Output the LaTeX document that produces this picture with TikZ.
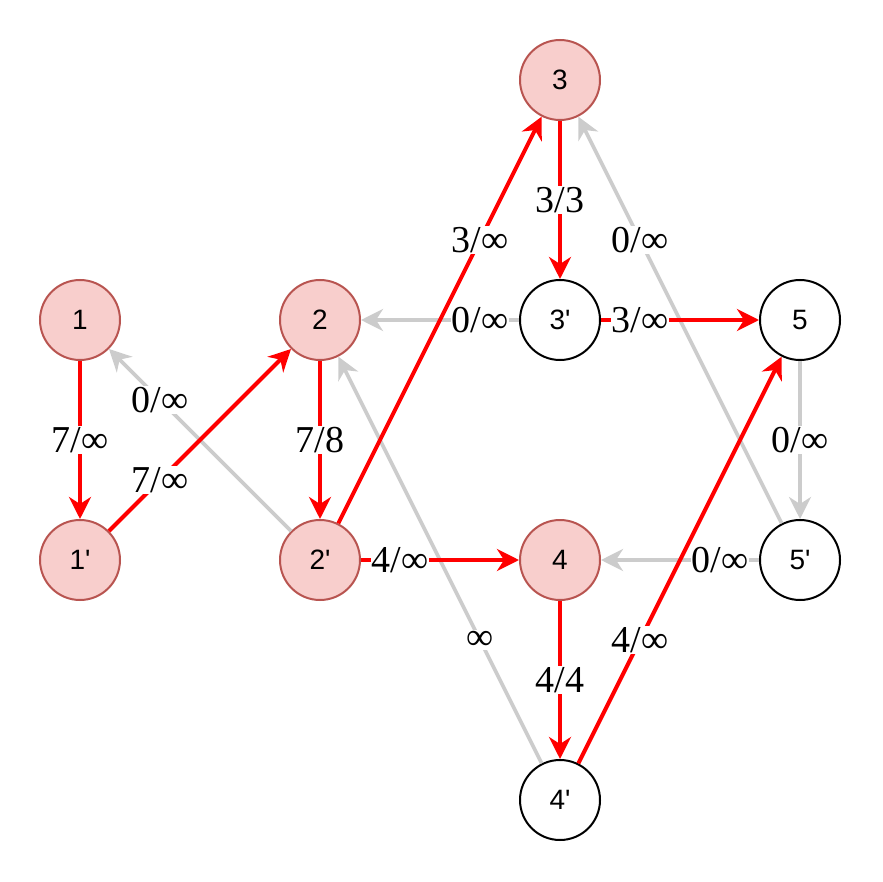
\documentclass[tikz,border=0pt]{standalone}
\usepackage{fontspec}
\setmainfont{Liberation Serif}
\newfontfamily\nodefont{Liberation Sans}
\usetikzlibrary{arrows.meta,calc}
\definecolor{pinkfill}{HTML}{F8CECC}
\definecolor{pinkline}{HTML}{B85450}
\definecolor{flowred}{HTML}{FF0000}
\definecolor{residgray}{HTML}{CCCCCC}
\begin{document}
\begin{tikzpicture}[x={(1pt,0pt)},y={(0pt,-1pt)},
  vtx/.style={circle,minimum size=80pt,inner sep=0pt,line width=2pt,font=\nodefont\fontsize{28}{32}\selectfont},
  hot/.style={vtx,draw=pinkline,fill=pinkfill},
  cold/.style={vtx,draw=black,fill=white},
  tipshape/.style={-{Stealth[length=22pt,width=22pt,inset=7pt]}},
  redarc/.style={draw=flowred,line width=4pt,tipshape},
  grayarc/.style={draw=residgray,line width=3.6pt,tipshape},
  lab/.style={fill=white,inner sep=1pt,font=\fontsize{38}{42}\selectfont}
]
\useasboundingbox (0,0) rectangle (882,882);
% nodes
\node[hot]  (n1)  at (80,320)  {1};
\node[hot]  (n1p) at (80,560)  {1'};
\node[hot]  (n2)  at (320,320) {2};
\node[hot]  (n2p) at (320,560) {2'};
\node[hot]  (n3)  at (560,80)  {3};
\node[cold] (n3p) at (560,320) {3'};
\node[hot]  (n4)  at (560,560) {4};
\node[cold] (n4p) at (560,800) {4'};
\node[cold] (n5)  at (800,320) {5};
\node[cold] (n5p) at (800,560) {5'};
% gray residual arcs
\draw[grayarc] (n2p) -- (n1);
\draw[grayarc] (n4p) -- (n2);
\draw[grayarc] (n3p) -- (n2);
\draw[grayarc] (n5p) -- (n3);
\draw[grayarc] (n5) -- (n5p);
\draw[grayarc] (n5p) -- (n4);
% red flow arcs
\draw[redarc] (n1) -- (n1p);
\draw[redarc] (n1p) -- (n2);
\draw[redarc] (n2) -- (n2p);
\draw[redarc] (n2p) -- (n3);
\draw[redarc] (n2p) -- (n4);
\draw[redarc] (n3) -- (n3p);
\draw[redarc] (n3p) -- (n5);
\draw[redarc] (n4) -- (n4p);
\draw[redarc] (n4p) -- (n5);
% labels
\node[lab] (l1) at ($(n1)!0.5!(n1p)$) {7/∞};
\node[lab] (l2) at ($(n1p)!0.333!(n2)$) {7/∞};
\node[lab] (l3) at ($(n2p)!0.667!(n1)$) {0/∞};
\node[lab] (l4) at ($(n2)!0.5!(n2p)$) {7/8};
\node[lab] (l5) at ($(n2p)!0.667!(n3)$) {3/∞};
\node[lab] (l6) at ($(n2p)!0.333!(n4)$) {4/∞};
\node[lab] (l7) at ($(n4p)!0.333!(n2)$) {∞};
\node[lab] (l8) at ($(n3)!0.5!(n3p)$) {3/3};
\node[lab] (l9) at ($(n3p)!0.333!(n2)$) {0/∞};
\node[lab] (l10) at ($(n3p)!0.333!(n5)$) {3/∞};
\node[lab] (l11) at ($(n5p)!0.667!(n3)$) {0/∞};
\node[lab] (l12) at ($(n5)!0.5!(n5p)$) {0/∞};
\node[lab] (l13) at ($(n5p)!0.333!(n4)$) {0/∞};
\node[lab] (l14) at ($(n4)!0.5!(n4p)$) {4/4};
\node[lab] (l15) at ($(n4p)!0.333!(n5)$) {4/∞};
\end{tikzpicture}
\end{document}
